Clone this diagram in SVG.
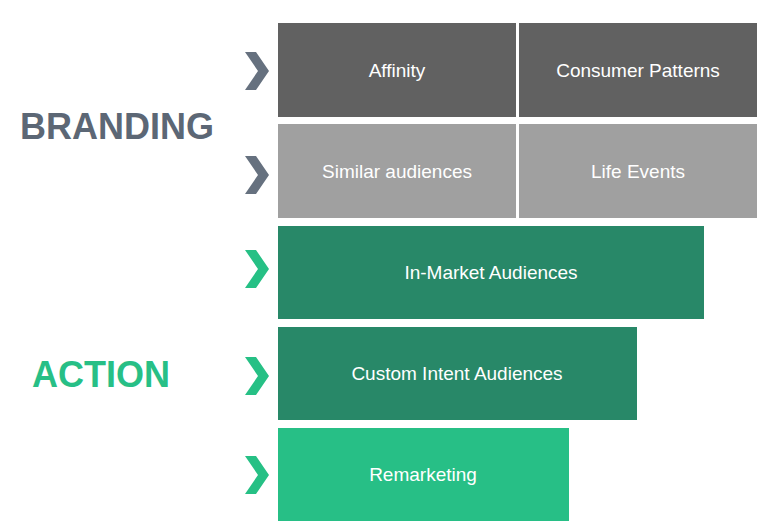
<svg xmlns="http://www.w3.org/2000/svg" width="770" height="531" viewBox="0 0 770 531">
<style>
.t{font-family:"Liberation Sans",Arial,sans-serif;font-size:19px;fill:#fff;text-anchor:middle}
.big{font-family:"Liberation Sans",Arial,sans-serif;font-size:36px;font-weight:bold}
.cg{fill:#66717f}.cgr{fill:#26c085}
</style>
<defs><polygon id="ch" points="-12,-19 -1,-19 12,0 -1,19 -12,19 1,0"/></defs>
<rect width="770" height="531" fill="#fff"/>
<text class="big" x="20" y="139" fill="#5c6775">BRANDING</text>
<text class="big" x="32" y="387" fill="#27bf86">ACTION</text>
<g id="chevrons">
<use href="#ch" class="cg" x="257" y="71"/>
<use href="#ch" class="cg" x="257" y="175"/>
<use href="#ch" class="cgr" x="257" y="269"/>
<use href="#ch" class="cgr" x="257" y="376"/>
<use href="#ch" class="cgr" x="257" y="475"/>
</g>
<g id="affinity"><rect x="278" y="23" width="238" height="94" fill="#616161"/><text class="t" x="397" y="77">Affinity</text></g>
<g id="consumer"><rect x="519" y="23" width="238" height="94" fill="#616161"/><text class="t" x="638" y="77">Consumer Patterns</text></g>
<g id="similar"><rect x="278" y="124" width="238" height="94" fill="#a0a0a0"/><text class="t" x="397" y="178">Similar audiences</text></g>
<g id="life"><rect x="519" y="124" width="238" height="94" fill="#a0a0a0"/><text class="t" x="638" y="178">Life Events</text></g>
<g id="inmarket"><rect x="278" y="226" width="426" height="93" fill="#288868"/><text class="t" x="491" y="279">In-Market Audiences</text></g>
<g id="custom"><rect x="278" y="327" width="359" height="93" fill="#288868"/><text class="t" x="457" y="380">Custom Intent Audiences</text></g>
<g id="remarketing"><rect x="278" y="428" width="291" height="93" fill="#27bf86"/><text class="t" x="423" y="481">Remarketing</text></g>
<g id="connectors"/>
</svg>
